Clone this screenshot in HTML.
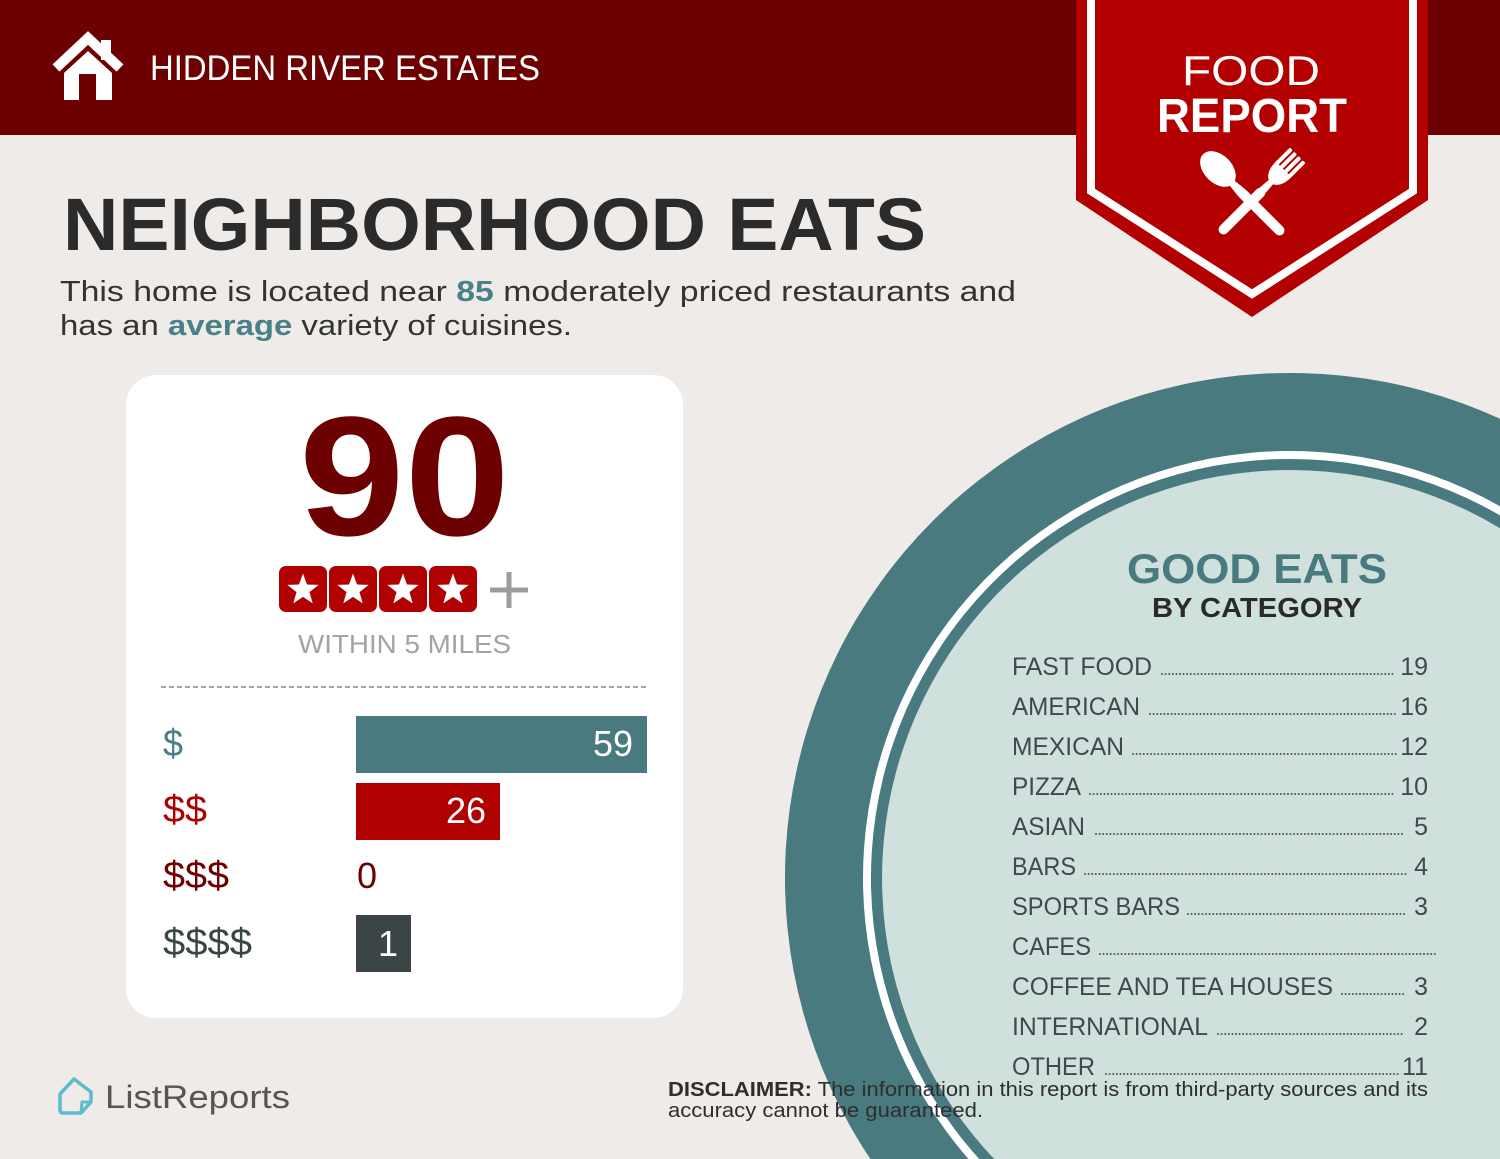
<!DOCTYPE html>
<html>
<head>
<meta charset="utf-8">
<style>
html,body{margin:0;padding:0;background:#efebe8;width:1500px;height:1159px;overflow:hidden;}
svg{display:block;}
text{font-family:"Liberation Sans",sans-serif;}
</style>
</head>
<body>
<svg width="1500" height="1159" viewBox="0 0 1500 1159" xmlns="http://www.w3.org/2000/svg">
  <defs>
    <polygon id="star" points="0,-15 3.64,-5.02 14.27,-4.64 5.90,1.92 8.82,12.14 0,6.2 -8.82,12.14 -5.90,1.92 -14.27,-4.64 -3.64,-5.02" fill="#ffffff"/>
  </defs>
  <rect x="0" y="0" width="1500" height="1159" fill="#efebe8"/>

  <!-- header -->
  <rect x="0" y="0" width="1500" height="135" fill="#6d0000"/>
  <!-- house icon -->
  <polyline points="56,68 88,38 120,68" fill="none" stroke="#ffffff" stroke-width="10" stroke-linejoin="miter"/>
  <rect x="101" y="40" width="10" height="20" fill="#ffffff"/>
  <polygon points="64,100 64,73 88,51 112,73 112,100" fill="#ffffff"/>
  <rect x="79" y="74" width="17" height="26" fill="#6d0000"/>
  <text x="150" y="80" font-size="35" fill="#ffffff" textLength="390" lengthAdjust="spacingAndGlyphs">HIDDEN RIVER ESTATES</text>

  <!-- big circle (clipped to frame as paths) -->
  <path d="M1500,418.7 A505,505 0 0 0 870.4,1159 L1500,1159 Z" fill="#487a7f"/>
  <path d="M1500,506.2 A427,427 0 0 0 968.5,1159 L1500,1159 Z" fill="#ffffff"/>
  <path d="M1500,515.4 A419,419 0 0 0 979.2,1159 L1500,1159 Z" fill="#487a7f"/>
  <path d="M1500,528.2 A408,408 0 0 0 994.2,1159 L1500,1159 Z" fill="#d0e0dd"/>

  <!-- badge -->
  <polygon points="1076,0 1428,0 1428,200 1252,317 1076,200" fill="#b30000"/>
  <polyline points="1091,0 1091,191 1252,294 1413,191 1413,0" fill="none" stroke="#ffffff" stroke-width="8" stroke-linejoin="miter"/>
  <text x="1182" y="85" font-size="42" fill="#ffffff" textLength="138" lengthAdjust="spacingAndGlyphs">FOOD</text>
  <text x="1157" y="132" font-size="48" font-weight="bold" fill="#ffffff" textLength="190" lengthAdjust="spacingAndGlyphs">REPORT</text>
  <!-- spoon -->
  <g transform="translate(1283,234) rotate(-45)" fill="#ffffff">
    <rect x="-5" y="-62" width="10" height="62" rx="5"/>
    <polygon points="-5,-58 5,-58 3,-76 -3,-76"/>
    <ellipse cx="0" cy="-92" rx="14" ry="21"/>
  </g>
  <!-- fork -->
  <g transform="translate(1220,233) rotate(45)" fill="#ffffff">
    <rect x="-5" y="-62" width="10" height="62" rx="5"/>
    <polygon points="-4,-60 4,-60 3,-73 -3,-73"/>
    <path d="M-3,-72 L3,-72 Q11,-76 11,-90 L-11,-90 Q-11,-76 -3,-72 Z"/>
    <rect x="-11" y="-110" width="4" height="22" rx="1.5"/>
    <rect x="-5" y="-110" width="4" height="22" rx="1.5"/>
    <rect x="1" y="-110" width="4" height="22" rx="1.5"/>
    <rect x="7" y="-110" width="4" height="22" rx="1.5"/>
  </g>

  <!-- title & paragraph -->
  <text x="63" y="250" font-size="74" font-weight="bold" fill="#2b2b2b" textLength="863" lengthAdjust="spacingAndGlyphs">NEIGHBORHOOD EATS</text>
  <text x="60" y="301" font-size="29" fill="#333333" textLength="956" lengthAdjust="spacingAndGlyphs">This home is located near <tspan font-weight="bold" fill="#4a8088">85</tspan> moderately priced restaurants and</text>
  <text x="60" y="335" font-size="29" fill="#333333" textLength="512" lengthAdjust="spacingAndGlyphs">has an <tspan font-weight="bold" fill="#4a8088">average</tspan> variety of cuisines.</text>

  <!-- card -->
  <rect x="126" y="375" width="557" height="643" rx="30" ry="30" fill="#ffffff"/>
  <text x="299" y="535" font-size="170" font-weight="bold" fill="#6d0000" textLength="211" lengthAdjust="spacingAndGlyphs">90</text>

  <!-- stars -->
  <rect x="279" y="566" width="48" height="46" rx="7" fill="#b00000"/>
  <rect x="329" y="566" width="48" height="46" rx="7" fill="#b00000"/>
  <rect x="379" y="566" width="48" height="46" rx="7" fill="#b00000"/>
  <rect x="429" y="566" width="48" height="46" rx="7" fill="#b00000"/>
  <use href="#star" transform="translate(303,590) scale(1.1)"/>
  <use href="#star" transform="translate(353,590) scale(1.1)"/>
  <use href="#star" transform="translate(403,590) scale(1.1)"/>
  <use href="#star" transform="translate(453,590) scale(1.1)"/>
  <line x1="490" y1="590" x2="528" y2="590" stroke="#9c9c9c" stroke-width="5"/>
  <line x1="509" y1="572" x2="509" y2="608" stroke="#9c9c9c" stroke-width="5"/>
  <text x="298" y="653" font-size="26" fill="#a3a3a3" textLength="213" lengthAdjust="spacingAndGlyphs">WITHIN 5 MILES</text>

  <line x1="161" y1="687" x2="647" y2="687" stroke="#a8a8a8" stroke-width="2" stroke-dasharray="5 3"/>

  <!-- price bars -->
  <text x="163" y="756" font-size="38" fill="#4a7f85" textLength="20" lengthAdjust="spacingAndGlyphs">$</text>
  <text x="163" y="822" font-size="38" fill="#b00000" textLength="44" lengthAdjust="spacingAndGlyphs">$$</text>
  <text x="163" y="888" font-size="38" fill="#6d0000" textLength="66" lengthAdjust="spacingAndGlyphs">$$$</text>
  <text x="163" y="955" font-size="38" fill="#3b4545" textLength="89" lengthAdjust="spacingAndGlyphs">$$$$</text>

  <rect x="356" y="716" width="291" height="57" fill="#487a7f"/>
  <text x="633" y="756" font-size="36" fill="#ffffff" text-anchor="end">59</text>
  <rect x="356" y="783" width="144" height="57" fill="#b00000"/>
  <text x="486" y="823" font-size="36" fill="#ffffff" text-anchor="end">26</text>
  <text x="357" y="888" font-size="36" fill="#6d0000">0</text>
  <rect x="356" y="915" width="55" height="57" fill="#3b4545"/>
  <text x="398" y="956" font-size="36" fill="#ffffff" text-anchor="end">1</text>

  <!-- good eats -->
  <text x="1127" y="583" font-size="42" font-weight="bold" fill="#487a7f" textLength="260" lengthAdjust="spacingAndGlyphs">GOOD EATS</text>
  <text x="1152" y="617" font-size="28" font-weight="bold" fill="#2a2a2a" textLength="210" lengthAdjust="spacingAndGlyphs">BY CATEGORY</text>

  <g font-size="25" fill="#3f4a4a">
    <text x="1012" y="675" textLength="140" lengthAdjust="spacingAndGlyphs">FAST FOOD</text>
    <text x="1428" y="675" text-anchor="end">19</text>
    <text x="1012" y="715" textLength="128" lengthAdjust="spacingAndGlyphs">AMERICAN</text>
    <text x="1428" y="715" text-anchor="end">16</text>
    <text x="1012" y="755" textLength="112" lengthAdjust="spacingAndGlyphs">MEXICAN</text>
    <text x="1428" y="755" text-anchor="end">12</text>
    <text x="1012" y="795" textLength="69" lengthAdjust="spacingAndGlyphs">PIZZA</text>
    <text x="1428" y="795" text-anchor="end">10</text>
    <text x="1012" y="835" textLength="73" lengthAdjust="spacingAndGlyphs">ASIAN</text>
    <text x="1428" y="835" text-anchor="end">5</text>
    <text x="1012" y="875" textLength="64" lengthAdjust="spacingAndGlyphs">BARS</text>
    <text x="1428" y="875" text-anchor="end">4</text>
    <text x="1012" y="915" textLength="168" lengthAdjust="spacingAndGlyphs">SPORTS BARS</text>
    <text x="1428" y="915" text-anchor="end">3</text>
    <text x="1012" y="955" textLength="79" lengthAdjust="spacingAndGlyphs">CAFES</text>
    <text x="1012" y="995" textLength="321" lengthAdjust="spacingAndGlyphs">COFFEE AND TEA HOUSES</text>
    <text x="1428" y="995" text-anchor="end">3</text>
    <text x="1012" y="1035" textLength="196" lengthAdjust="spacingAndGlyphs">INTERNATIONAL</text>
    <text x="1428" y="1035" text-anchor="end">2</text>
    <text x="1012" y="1075" textLength="83" lengthAdjust="spacingAndGlyphs">OTHER</text>
    <text x="1428" y="1075" text-anchor="end">11</text>
  </g>
  <g stroke="#4a5555" stroke-width="2" stroke-linecap="round" stroke-dasharray="0 3.6" fill="none">
    <line x1="1162" y1="674" x2="1396" y2="674"/>
    <line x1="1150" y1="714" x2="1396" y2="714"/>
    <line x1="1133" y1="754" x2="1396" y2="754"/>
    <line x1="1090" y1="794" x2="1394" y2="794"/>
    <line x1="1096" y1="834" x2="1405" y2="834"/>
    <line x1="1085" y1="874" x2="1406" y2="874"/>
    <line x1="1188" y1="914" x2="1406" y2="914"/>
    <line x1="1100" y1="954" x2="1437" y2="954"/>
    <line x1="1342" y1="994" x2="1406" y2="994"/>
    <line x1="1218" y1="1034" x2="1405" y2="1034"/>
    <line x1="1106" y1="1074" x2="1398" y2="1074"/>
  </g>

  <!-- disclaimer -->
  <text x="668" y="1096" font-size="20" fill="#2e2e2e" textLength="760" lengthAdjust="spacingAndGlyphs"><tspan font-weight="bold">DISCLAIMER:</tspan> The information in this report is from third-party sources and its</text>
  <text x="668" y="1117" font-size="20" fill="#2e2e2e" textLength="315" lengthAdjust="spacingAndGlyphs">accuracy cannot be guaranteed.</text>

  <!-- ListReports logo -->
  <path d="M60,1094 L74,1079 L91,1092 L91,1102 L81,1113 L63,1113 Q60,1113 60,1110 Z" fill="none" stroke="#5cbccb" stroke-width="3.5" stroke-linejoin="round"/>
  <path d="M91,1102 L82,1102 L81,1113" fill="none" stroke="#5cbccb" stroke-width="3" stroke-linejoin="round"/>
  <text x="105" y="1108" font-size="32" fill="#555555" textLength="185" lengthAdjust="spacingAndGlyphs">ListReports</text>
</svg>
</body>
</html>
